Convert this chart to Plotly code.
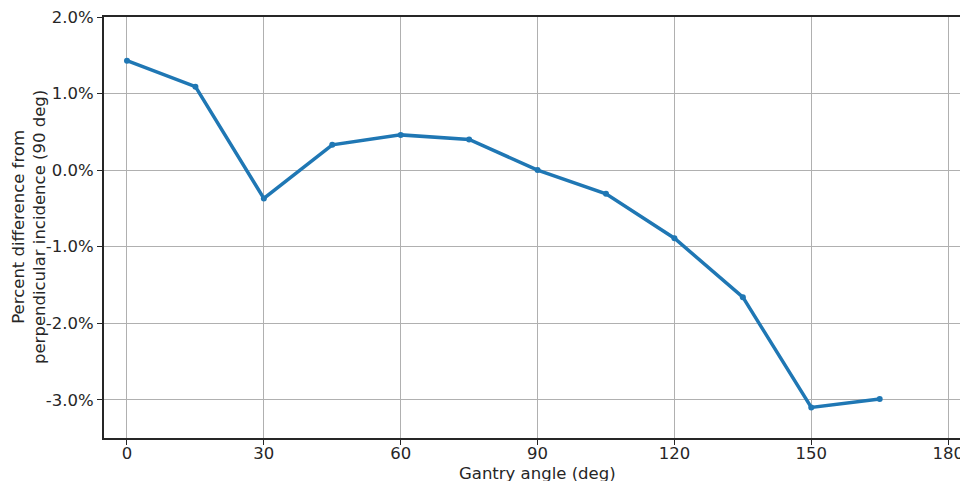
import plotly.graph_objects as go

angles = [0, 15, 30, 45, 60, 75, 90, 105, 120, 135, 150, 165]
pct_diff = [1.43, 1.09, -0.37, 0.33, 0.46, 0.40, 0.0, -0.31, -0.89, -1.66, -3.10, -2.99]

x_ticks = [0, 30, 60, 90, 120, 150, 180]
y_ticks = [2.0, 1.0, 0.0, -1.0, -2.0, -3.0]
y_tick_labels = ["2.0%", "1.0%", "0.0%", "-1.0%", "-2.0%", "-3.0%"]

fig = go.Figure()
fig.add_trace(go.Scatter(
    x=angles, y=pct_diff, mode="lines+markers",
    line=dict(color="#1f77b4", width=3.5),
    marker=dict(color="#1f77b4", size=6),
    showlegend=False,
))

fs = 16.5
txt = "#262626"
fig.update_layout(
    width=960, height=481,
    margin=dict(l=104, r=0, t=17, b=43),
    paper_bgcolor="white", plot_bgcolor="white",
    font=dict(family="DejaVu Sans", size=fs, color=txt),
)
fig.update_xaxes(
    range=[-5.04, 182.6],
    tickvals=x_ticks,
    ticks="outside", ticklen=5, tickwidth=1.2, tickcolor=txt,
    showgrid=True, gridcolor="#b0b0b0", gridwidth=1,
    showline=True, linecolor=txt, linewidth=2, mirror=True,
    zeroline=False, automargin=False, ticklabeloverflow="allow",
    ticklabelstandoff=-6,
    tickfont=dict(family="DejaVu Sans", size=fs, color=txt),
)
fig.update_yaxes(
    range=[-3.5, 2.0],
    tickvals=y_ticks, ticktext=y_tick_labels,
    ticks="outside", ticklen=5, tickwidth=1.2, tickcolor=txt,
    showgrid=True, gridcolor="#b0b0b0", gridwidth=1,
    showline=True, linecolor=txt, linewidth=2, mirror=False,
    zeroline=False, automargin=False, ticklabeloverflow="allow",
    tickfont=dict(family="DejaVu Sans", size=fs, color=txt),
)
fig.add_annotation(
    text="Gantry angle (deg)", xref="paper", yref="paper",
    x=0.5064, y=-0.0855, xanchor="center", yanchor="middle",
    showarrow=False, font=dict(family="DejaVu Sans", size=fs, color=txt),
)
fig.add_annotation(
    text="Percent difference from<br>perpendicular incidence (90 deg)",
    xref="paper", yref="paper", x=-0.0882, y=0.5,
    xanchor="center", yanchor="middle", textangle=-90,
    showarrow=False, font=dict(family="DejaVu Sans", size=fs, color=txt),
)

fig.write_html(
    "out.html",
    config={"displayModeBar": False},
    post_script="document.body.style.margin='0';document.body.style.overflow='hidden';",
)
